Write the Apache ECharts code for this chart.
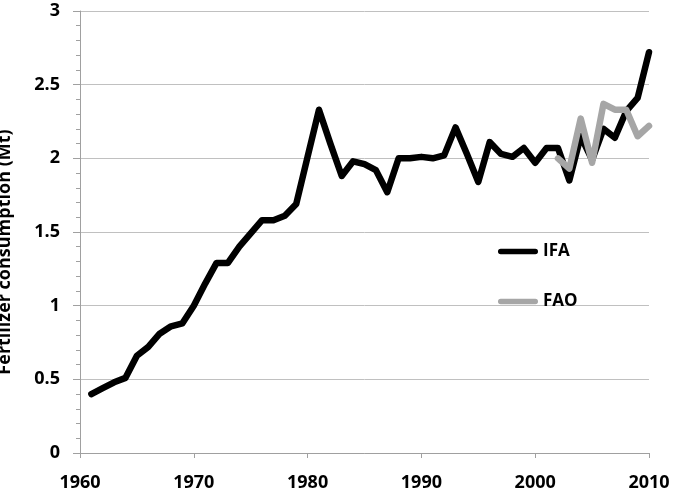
<!DOCTYPE html>
<html>
<head>
<meta charset="utf-8">
<script src="https://cdn.jsdelivr.net/npm/echarts@6/dist/echarts.min.js"></script>
<style>
html,body{margin:0;padding:0;background:#fff;}
#chart{width:673px;height:495px;}
</style>
</head>
<body>
<div id="chart"></div>
<script>
var ifaYears = [1961,1962,1963,1964,1965,1966,1967,1968,1969,1970,1971,1972,1973,1974,1975,1976,1977,1978,1979,1980,1981,1982,1983,1984,1985,1986,1987,1988,1989,1990,1991,1992,1993,1994,1995,1996,1997,1998,1999,2000,2001,2002,2003,2004,2005,2006,2007,2008,2009,2010];
var ifaValues = [0.40,0.44,0.48,0.51,0.66,0.72,0.81,0.86,0.88,1.00,1.15,1.29,1.29,1.40,1.49,1.58,1.58,1.61,1.69,2.01,2.33,2.10,1.88,1.98,1.96,1.92,1.77,2.00,2.00,2.01,2.00,2.02,2.21,2.03,1.84,2.11,2.03,2.01,2.07,1.97,2.07,2.07,1.85,2.15,1.99,2.20,2.14,2.32,2.41,2.72];
var faoYears = [2002,2003,2004,2005,2006,2007,2008,2009,2010];
var faoValues = [2.00,1.93,2.27,1.97,2.37,2.33,2.33,2.15,2.22];
var seriesNames = ['IFA','FAO'];
var yAxisTitle = 'Fertilizer consumption (Mt)';

function pairs(xs, ys){ return xs.map(function(x,i){ return [x, ys[i]]; }); }

var font = '"Open Sans", "Noto Sans", sans-serif';
var capsule = 'path://M3,0 H41 A3,3 0 0 1 41,6 H3 A3,3 0 0 1 3,0 Z';

var chart = echarts.init(document.getElementById('chart'), null, {renderer:'canvas'});
chart.setOption({
  animation: false,
  backgroundColor: '#ffffff',
  grid: {left: 80, right: 24, top: 11, bottom: 42, containLabel: false, outerBoundsMode: 'none'},
  legend: {
    orient: 'vertical',
    left: 493, top: 238,
    itemWidth: 40, itemHeight: 6, itemGap: 33,
    data: [
      {name: seriesNames[0], icon: capsule, itemStyle: {color: '#000000'}},
      {name: seriesNames[1], icon: capsule, itemStyle: {color: '#a6a6a6'}}
    ],
    textStyle: {fontFamily: font, fontWeight: 'bold', fontSize: 17, color: '#000'}
  },
  xAxis: {
    type: 'value', min: 1960, max: 2010, interval: 10,
    axisLine: {show: true, lineStyle: {color: '#a0a0a0', width: 1}},
    axisTick: {show: true, length: 5, lineStyle: {color: '#a0a0a0'}},
    splitLine: {show: false},
    axisLabel: {fontFamily: font, fontWeight: 'bold', fontSize: 18, color: '#000', margin: 21,
      formatter: function(v){ return String(v); }}
  },
  yAxis: {
    type: 'value', min: 0, max: 3, interval: 0.5,
    name: yAxisTitle, nameLocation: 'middle', nameGap: 66, nameRotate: 90,
    nameTextStyle: {fontFamily: font, fontWeight: 'bold', fontSize: 18, color: '#000', padding: [0, 40, 0, 0]},
    axisLine: {show: true, lineStyle: {color: '#a0a0a0', width: 1}},
    axisTick: {show: true, length: 7, lineStyle: {color: '#a0a0a0'}},
    minorTick: {show: true, splitNumber: 5, length: 4, lineStyle: {color: '#a0a0a0'}},
    splitLine: {show: true, lineStyle: {color: '#c0c0c0', width: 1}},
    axisLabel: {fontFamily: font, fontWeight: 'bold', fontSize: 18, color: '#000', margin: 20}
  },
  series: [
    {name: seriesNames[0], type: 'line', data: pairs(ifaYears, ifaValues), showSymbol: false, symbol: 'none',
     lineStyle: {color: '#000000', width: 6.5, cap: 'round', join: 'round'}, itemStyle: {color: '#000'}},
    {name: seriesNames[1], type: 'line', data: pairs(faoYears, faoValues), showSymbol: false, symbol: 'none',
     lineStyle: {color: '#a6a6a6', width: 6.5, cap: 'round', join: 'round'}, itemStyle: {color: '#a6a6a6'}}
  ]
});
</script>
</body>
</html>
